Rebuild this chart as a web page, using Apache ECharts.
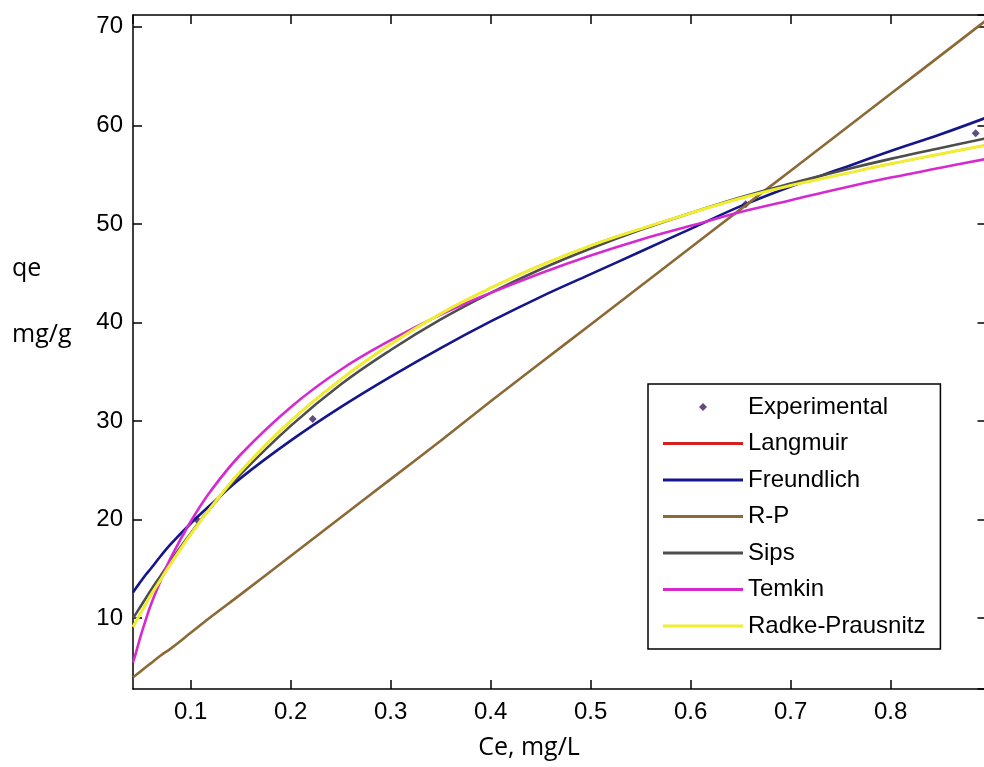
<!DOCTYPE html>
<html>
<head>
<meta charset="utf-8">
<script src="https://cdn.jsdelivr.net/npm/echarts@6/dist/echarts.min.js"></script>
<style>
html,body{margin:0;padding:0;background:#fff;}
#chart{width:984px;height:767px;}
</style>
</head>
<body>
<div id="chart"></div>
<script>
// Data
var xFit = [0.0423, 0.045, 0.05, 0.055, 0.06, 0.07, 0.08, 0.1, 0.12, 0.15, 0.2, 0.25, 0.3, 0.35, 0.4, 0.45, 0.5, 0.55, 0.6, 0.65, 0.7, 0.75, 0.8, 0.85, 0.896];
var expX = [0.106, 0.222, 0.655, 0.885];
var expY = [20.0, 30.2, 52.0, 59.2];
var langmuir = [9.1, 9.6, 10.5, 11.4, 12.3, 13.9, 15.5, 18.5, 21.2, 24.9, 30.0, 34.2, 37.8, 40.9, 43.5, 45.8, 47.8, 49.5, 51.1, 52.6, 53.9, 55.0, 56.1, 57.1, 58.0];
var freundlich = [12.6, 13.0, 13.7, 14.4, 15.0, 16.3, 17.5, 19.6, 21.5, 24.2, 28.0, 31.4, 34.5, 37.4, 40.1, 42.6, 44.9, 47.2, 49.5, 51.8, 53.8, 55.6, 57.4, 59.1, 60.8];
var rp = [4.0, 4.2, 4.6, 5.0, 5.4, 6.2, 6.9, 8.5, 10.1, 12.4, 16.3, 20.2, 24.1, 28.0, 32.0, 35.9, 39.8, 43.7, 47.6, 51.5, 55.4, 59.3, 63.2, 67.1, 70.7];
var sips = [10.0, 10.4, 11.2, 12.0, 12.8, 14.3, 15.8, 18.6, 21.2, 24.6, 29.5, 33.7, 37.2, 40.3, 43.0, 45.4, 47.5, 49.4, 51.1, 52.7, 54.1, 55.4, 56.6, 57.7, 58.7];
var temkin = [5.5, 6.4, 8.2, 9.8, 11.3, 13.8, 16.1, 19.8, 22.9, 26.6, 31.4, 35.2, 38.2, 40.8, 43.0, 45.0, 46.8, 48.4, 49.8, 51.2, 52.4, 53.6, 54.7, 55.7, 56.6];
var radke = [9.1, 9.6, 10.5, 11.4, 12.3, 13.9, 15.5, 18.5, 21.2, 24.9, 30.0, 34.2, 37.8, 40.9, 43.5, 45.8, 47.8, 49.5, 51.1, 52.6, 53.9, 55.0, 56.1, 57.1, 58.0];
var xMin = 0.0423, xMax = 0.8958, yMin = 2.8, yMax = 71.2;

function pairs(xs, ys){ return xs.map(function(x,i){ return [x, ys[i]]; }); }

var tickFont = 'Liberation Sans, Arial, sans-serif';
var lineIcon = 'path://M0,0L80,0L80,3L0,3Z';
var diamondIcon = 'path://M4,0L8,4L4,8L0,4Z';

function lineSeries(name, ys, color, width){
  return {
    name: name, type: 'line', data: pairs(xFit, ys), symbol: 'none', showSymbol: false,
    smooth: 0.4, clip: true,
    lineStyle: {color: color, width: width}, itemStyle: {color: color}
  };
}

var chart = echarts.init(document.getElementById('chart'), null, {renderer: 'canvas'});
var axisLineStyle = {color: '#000', width: 1.5};
chart.setOption({
  animation: false,
  backgroundColor: '#fff',
  grid: {left: 133, width: 853.5, top: 15, bottom: 78, containLabel: false, outerBoundsMode: 'none'},
  xAxis: [{
    type: 'value', min: xMin, max: xMax, splitNumber: 9, maxInterval: 0.1, minInterval: 0.1,
    position: 'bottom',
    axisLine: {show: true, onZero: false, lineStyle: axisLineStyle},
    axisTick: {show: true, inside: true, length: 9, lineStyle: axisLineStyle},
    axisLabel: {show: true, showMinLabel: false, showMaxLabel: false, margin: 11,
      color: '#000', fontSize: 24, fontFamily: tickFont},
    splitLine: {show: false}
  }, {
    type: 'value', min: xMin, max: xMax, splitNumber: 9, maxInterval: 0.1, minInterval: 0.1,
    position: 'top',
    axisLine: {show: true, onZero: false, lineStyle: axisLineStyle},
    axisTick: {show: true, inside: true, length: 9, lineStyle: axisLineStyle},
    axisLabel: {show: false},
    splitLine: {show: false}
  }],
  yAxis: [{
    type: 'value', min: yMin, max: yMax, splitNumber: 7, maxInterval: 10, minInterval: 10,
    position: 'left',
    axisLine: {show: true, onZero: false, lineStyle: axisLineStyle},
    axisTick: {show: true, inside: true, length: 9, lineStyle: axisLineStyle},
    axisLabel: {show: true, showMinLabel: false, showMaxLabel: false, margin: 10,
      color: '#000', fontSize: 24, fontFamily: tickFont},
    splitLine: {show: false}
  }, {
    type: 'value', min: yMin, max: yMax, splitNumber: 7, maxInterval: 10, minInterval: 10,
    position: 'right',
    axisLine: {show: true, onZero: false, lineStyle: axisLineStyle},
    axisTick: {show: true, inside: true, length: 9, lineStyle: axisLineStyle},
    axisLabel: {show: false},
    splitLine: {show: false}
  }],
  legend: {
    orient: 'vertical', left: 648, top: 384,
    backgroundColor: '#fff', borderColor: '#000', borderWidth: 1.5,
    padding: [11, 15, 11, 15],
    itemWidth: 80, itemHeight: 8, itemGap: 12.5, symbolKeepAspect: true,
    textStyle: {color: '#000', fontSize: 24, fontFamily: tickFont, lineHeight: 24},
    data: [
      {name: 'Experimental', icon: diamondIcon},
      {name: 'Langmuir', icon: lineIcon},
      {name: 'Freundlich', icon: lineIcon},
      {name: 'R-P', icon: lineIcon},
      {name: 'Sips', icon: lineIcon},
      {name: 'Temkin', icon: lineIcon},
      {name: 'Radke-Prausnitz', icon: lineIcon}
    ]
  },
  graphic: [
    {type: 'text', left: 12, top: 256, style: {text: 'qe', font: '25px Open Sans', fill: '#000'}},
    {type: 'text', left: 12, top: 322, style: {text: 'mg/g', font: '25px Open Sans', fill: '#000'}},
    {type: 'text', x: 529, y: 748, style: {text: 'Ce, mg/L', font: '25px Open Sans', fill: '#000', align: 'center', verticalAlign: 'middle'}}
  ],
  series: [
    {
      name: 'Experimental', type: 'scatter', data: pairs(expX, expY),
      symbol: 'diamond', symbolSize: 8, itemStyle: {color: '#3b1f5e'}, clip: true
    },
    lineSeries('Langmuir', langmuir, '#d42020', 2),
    lineSeries('Freundlich', freundlich, '#15158c', 2.6),
    lineSeries('R-P', rp, '#8b6a36', 2.6),
    lineSeries('Sips', sips, '#4d4d4d', 2.6),
    lineSeries('Temkin', temkin, '#d42ad0', 2.6),
    lineSeries('Radke-Prausnitz', radke, '#f0ee30', 3)
  ]
});
</script>
</body>
</html>
